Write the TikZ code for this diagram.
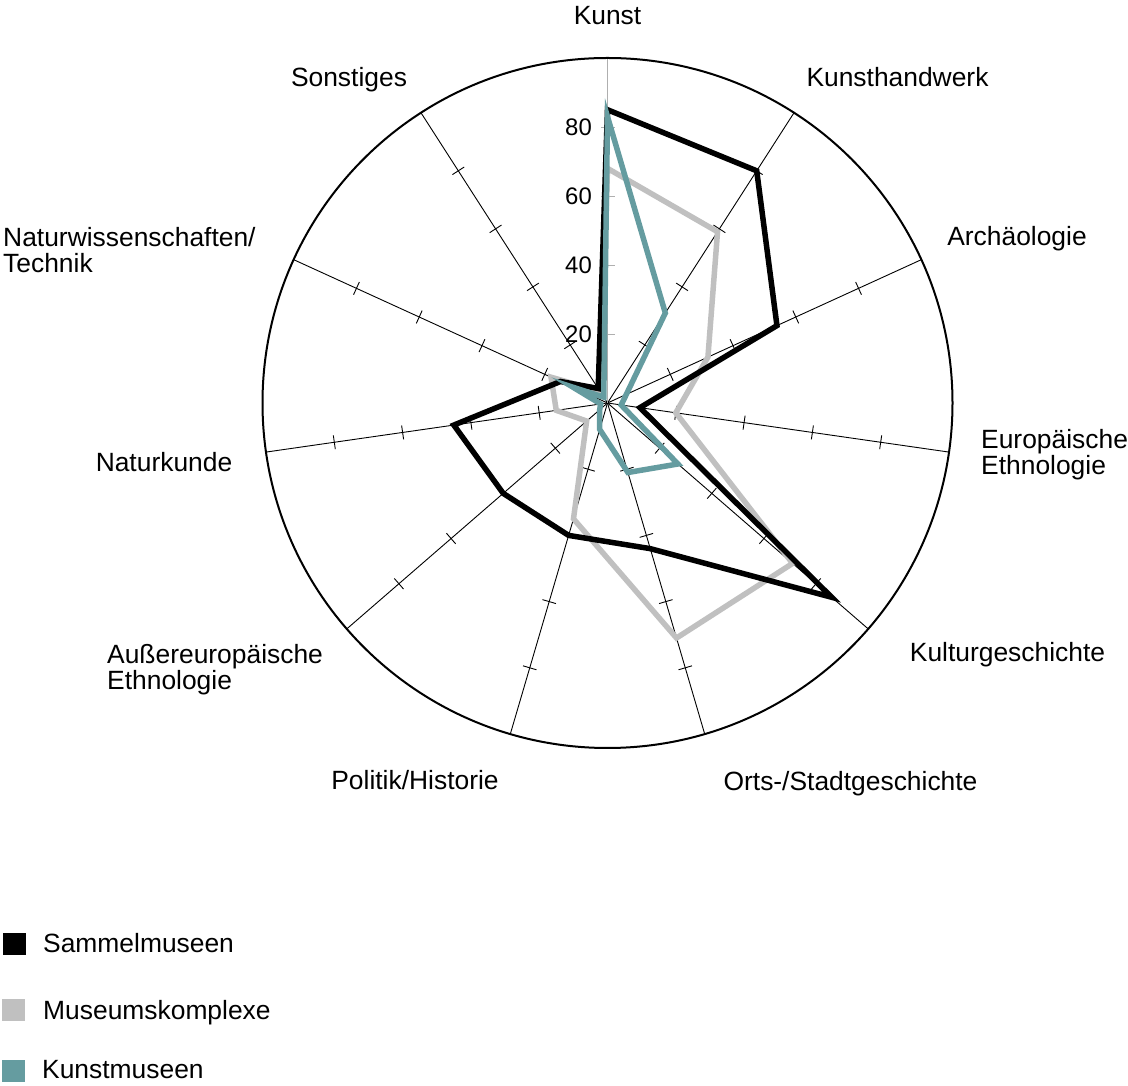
\documentclass[tikz,border=0pt]{standalone}
\usepackage{fontspec}
\setmainfont{Liberation Sans}
\definecolor{sgray}{RGB}{192,192,192}
\definecolor{steal}{RGB}{101,156,160}
\definecolor{axisgray}{RGB}{175,175,175}
\begin{document}
\begin{tikzpicture}[x=1bp,y=1bp,
  lab/.style={font=\fontsize{26.5}{26.5}\selectfont, inner sep=0pt},
  ticklab/.style={font=\fontsize{24}{24}\selectfont, inner sep=0pt, anchor=east},
  axisline/.style={line width=0.9bp, black},
  kunstaxis/.style={line width=0.9bp, axisgray},
  rim/.style={line width=2bp, black},
  series/.style={line width=5.5bp, line join=miter},
  legbox/.style={minimum width=23bp, minimum height=22bp, inner sep=0pt}]
\useasboundingbox (0,0) rectangle (1128,1086);
\coordinate (C) at (607.5,683);
\begin{scope}[shift={(C)}]
  % axes and ticks
  \foreach \i in {1,...,10}{
    \pgfmathsetmacro\a{90-\i*360/11}
    \begin{scope}[rotate=\a]
      \draw[axisline] (0,0) -- (345,0);
      \foreach \k in {1,...,4} \draw[axisline] (\k*69,-7) -- (\k*69,7);
    \end{scope}
  }
  \begin{scope}[rotate=90]
    \draw[kunstaxis] (0,0) -- (345,0);
    \foreach \k in {1,...,4} \draw[kunstaxis] (\k*69,-7) -- (\k*69,7);
  \end{scope}
  \draw[rim] (0,0) circle (345);
  % data points
  \foreach \v [count=\i from 0] in {68,59,32,20,71,71,35,8,15,18,4}
    \coordinate (g\i) at ({90-\i*360/11}:{\v*3.45});
  \foreach \v [count=\i from 0] in {85,80,54,9.5,86,44,40,40,45,15,5}
    \coordinate (b\i) at ({90-\i*360/11}:{\v*3.45});
  \foreach \v [count=\i from 0] in {83,31,6,4,27,21,8,3,2,11,2}
    \coordinate (t\i) at ({90-\i*360/11}:{\v*3.45});
  \draw[series, sgray] (g0)--(g1)--(g2)--(g3)--(g4)--(g5)--(g6)--(g7)--(g8)--(g9)--(g10)--cycle;
  \draw[series, black] (b0)--(b1)--(b2)--(b3)--(b4)--(b5)--(b6)--(b7)--(b8)--(b9)--(b10)--cycle;
  \draw[series, steal] (t0)--(t1)--(t2)--(t3)--(t4)--(t5)--(t6)--(t7)--(t8)--(t9)--(t10)--cycle;
\end{scope}
% tick labels
\node[ticklab] (n20) at (592,752) {20};
\node[ticklab] (n40) at (592,821) {40};
\node[ticklab] (n60) at (592,890) {60};
\node[ticklab] (n80) at (592,959) {80};
% axis labels
\node[lab, anchor=base] (lKunst) at (607.5,1061) {Kunst};
\node[lab, anchor=base] (lKH) at (897.5,999) {Kunsthandwerk};
\node[lab, anchor=base] (lSo) at (349,999) {Sonstiges};
\node[lab, anchor=base] (lAr) at (1017,840) {Archäologie};
\node[lab, anchor=base west, align=left] (lNW) at (3,813) {Naturwissenschaften/\\Technik};
\node[lab, anchor=base west, align=left] (lEE) at (981,611) {Europäische\\Ethnologie};
\node[lab, anchor=base] (lNK) at (164,614) {Naturkunde};
\node[lab, anchor=base] (lKG) at (1007.5,424) {Kulturgeschichte};
\node[lab, anchor=base west, align=left] (lAE) at (107,396) {Außereuropäische\\Ethnologie};
\node[lab, anchor=base] (lPH) at (415,296) {Politik/Historie};
\node[lab, anchor=base] (lOS) at (850.5,295) {Orts-/Stadtgeschichte};
% legend
\node[legbox, fill=black] (k1) at (14.5,142) {};
\node[legbox, fill=sgray] (k2) at (13.5,76) {};
\node[legbox, fill=steal] (k3) at (13.5,14.5) {};
\node[lab, anchor=base west] (e1) at (43,133) {Sammelmuseen};
\node[lab, anchor=base west] (e2) at (43,66) {Museumskomplexe};
\node[lab, anchor=base west] (e3) at (42,7) {Kunstmuseen};
\end{tikzpicture}
\end{document}
